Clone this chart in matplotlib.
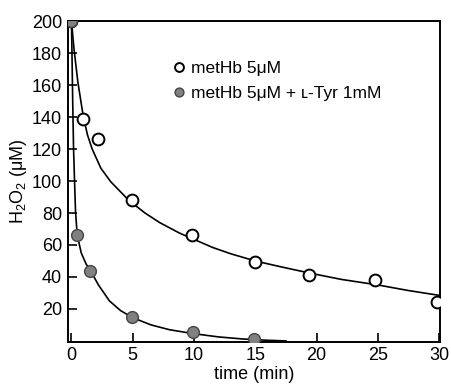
import matplotlib
matplotlib.use('Agg')
import matplotlib.pyplot as plt

plt.rcParams['font.family'] = ['Liberation Sans', 'DejaVu Sans']
plt.rcParams['mathtext.fontset'] = 'custom'
plt.rcParams['mathtext.rm'] = 'Liberation Sans'
plt.rcParams['mathtext.it'] = 'Liberation Sans'

# measured points
t_open = [0, 0.9, 2.2, 4.9, 9.8, 15.0, 19.4, 24.8, 29.8]
h_open = [200, 139, 126, 88, 66, 49.5, 41, 38, 24.5]
t_fill = [0, 0.47, 1.55, 4.9, 9.9, 14.9]
h_fill = [200, 66, 44, 15, 5.5, 1.2]

# fitted curves
fit_open_t = [0, 0.2, 0.52, 0.95, 1.3, 1.69, 2.4, 3.2, 4.67, 6, 7.2, 8.8, 10, 11.5,
              13, 15, 17, 19.4, 22, 25, 27.5, 30]
fit_open_h = [200, 183, 162, 141, 129, 120, 108, 99.6, 88, 80, 74, 67.5, 63.5, 58.5,
              54.5, 50, 46.5, 42.5, 38.5, 35, 31.5, 28.5]
fit_fill_t = [0, 0.05, 0.1, 0.17, 0.25, 0.33, 0.47, 0.8, 1.2, 1.55, 2.2, 3.1, 4, 5,
              6.5, 8, 10, 12, 14, 16, 17.5]
fit_fill_h = [200, 175, 150, 120, 100, 81, 66, 55, 48, 44, 35, 25, 19, 14.5,
              10, 7, 4.5, 2.5, 1.2, 0.4, 0]

fig = plt.figure(figsize=(4.52, 3.85), dpi=100)
ax = fig.add_axes([0.150, 0.112, 0.823, 0.833])

ax.plot(fit_open_t, fit_open_h, color='black', lw=1.2, zorder=2)
ax.plot(fit_fill_t, fit_fill_h, color='black', lw=1.2, zorder=2)
ax.plot(t_open, h_open, 'o', ms=8.5, mfc='white', mec='black', mew=1.4, zorder=3,
        label='metHb 5μM')
ax.plot(t_fill, h_fill, 'o', ms=8.5, mfc='#808080', mec='#454545', mew=1.0, zorder=3,
        label='metHb 5μM + ʟ-Tyr 1mM')

ax.set_xlim(-0.3, 30.05)
ax.set_ylim(-0.6, 200)
ax.set_xticks([0, 5, 10, 15, 20, 25, 30])
ax.set_yticks(range(20, 201, 20))
ax.tick_params(direction='in', length=6.5, width=1.2, labelsize=13, pad=4)
for s in ax.spines.values():
    s.set_linewidth(1.4)

ax.set_xlabel('time (min)', fontsize=13, labelpad=1)
ax.set_ylabel('H$_2$O$_2$ (μM)', fontsize=13, labelpad=2)

leg = ax.legend(loc='upper left', bbox_to_anchor=(0.286, 0.877), frameon=False,
                fontsize=12.5, handletextpad=0.35, handlelength=0.6,
                labelspacing=0.6, borderpad=0, borderaxespad=0, markerscale=0.75)

fig.savefig('out.png', dpi=100)
